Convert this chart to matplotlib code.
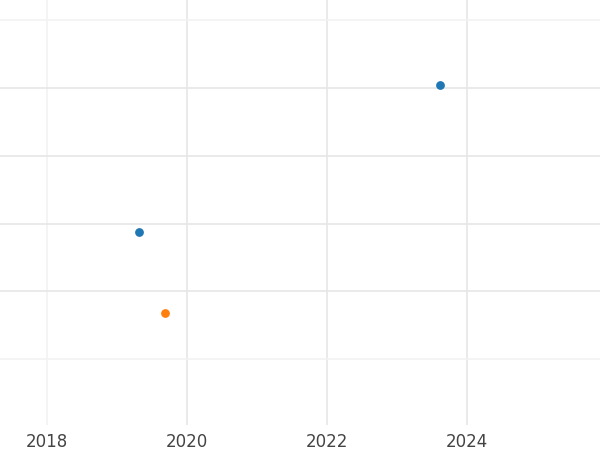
import matplotlib
matplotlib.use("Agg")
import matplotlib.pyplot as plt

blue_x = [2023.61, 2019.31]
blue_y = [4.04, 1.87]
orange_x = [2019.69]
orange_y = [0.68]
xticks = [2018, 2020, 2022, 2024]
yticks = [0, 1, 2, 3, 4, 5]
light_x = [2018]
light_y = [0, 5]

fig = plt.figure(figsize=(6, 4.5), dpi=100)
ax = fig.add_axes([0, 0.056, 1, 0.944])
ax.scatter(blue_x, blue_y, color="#1f77b4", s=28, zorder=3)
ax.scatter(orange_x, orange_y, color="#ff7f0e", s=28, zorder=3)
ax.set_xlim(2017.33, 2025.9)
ax.set_ylim(-0.97, 5.3)
ax.set_xticks(xticks)
ax.set_xticklabels([str(t) for t in xticks])
ax.set_yticks(yticks)
ax.set_yticklabels([])
for t in xticks:
    ax.axvline(t, color="#f2f2f2" if t in light_x else "#e6e6e6", linewidth=1.2, zorder=0)
for t in yticks:
    ax.axhline(t, color="#f2f2f2" if t in light_y else "#e6e6e6", linewidth=1.2, zorder=0)
for s in ax.spines.values():
    s.set_visible(False)
ax.tick_params(length=0, labelsize=12, labelcolor="#444444", pad=6)
fig.savefig("out.png", dpi=100)
